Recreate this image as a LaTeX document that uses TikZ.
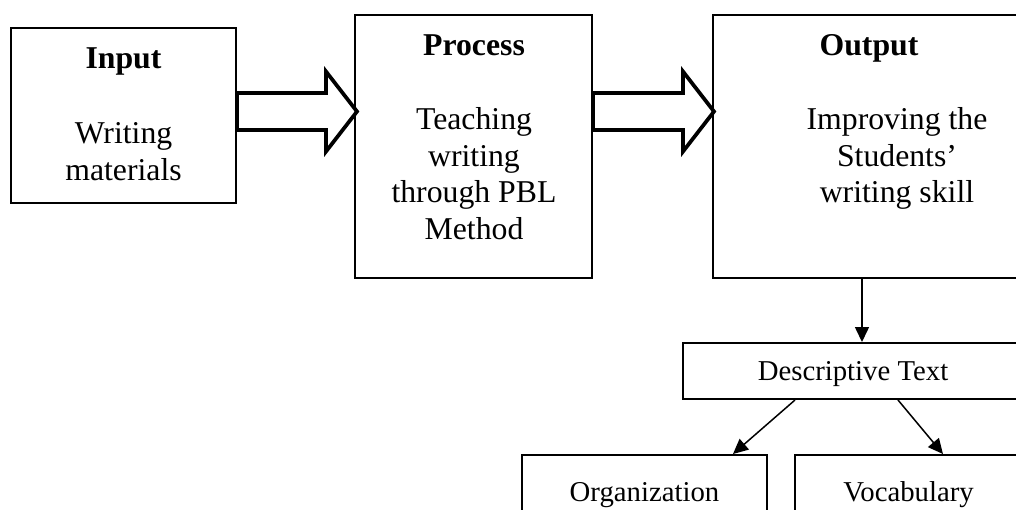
\documentclass[tikz,border=0pt]{standalone}
\usepackage{fontspec}
\setmainfont{Liberation Serif}
\usepackage{tikz}
\usetikzlibrary{arrows.meta,positioning,calc}

\begin{document}
\begin{tikzpicture}[
  x=0.4pt, y=-0.4pt,
  >={Triangle[length=6pt,width=5.6pt]},
  every node/.style={align=center, inner sep=0pt},
  bigbox/.style   = {draw, line width=0.8pt},
  smallbox/.style = {draw, line width=0.8pt, font=\fontsize{11.5}{13.8}\selectfont, text depth=0pt},
  title/.style    = {font=\fontsize{12.7}{14.6}\selectfont\bfseries, anchor=base},
  body/.style     = {font=\fontsize{12.7}{14.6}\selectfont, anchor=north},
  fatarrow/.style = {draw, line width=1.5pt, line join=miter, fill=white},
  link/.style     = {->, line width=0.6pt}
]
\useasboundingbox (0,0) rectangle (1016,509);
\clip (0,0) rectangle (1016,509);

\node[bigbox, minimum width=225*0.4pt, minimum height=175*0.4pt] (input) at (123.5,115.5) {};
\node[bigbox, minimum width=237*0.4pt, minimum height=263*0.4pt] (process) at (473.5,146.5) {};
\node[bigbox, minimum width=310*0.4pt, minimum height=263*0.4pt] (output) at (868,146.5) {};

\node[title] (inputTitle) at (123.5,68) {Input};
\node[body] (inputText) at (123.5,122) {Writing\\materials};
\node[title] (processTitle) at (474,55) {Process};
\node[body] (processText) at (474,107) {Teaching\\writing\\through PBL\\Method};
\node[title] (outputTitle) at (869,55) {Output};
\node[body] (outputText) at (897,107) {Improving the\\Students'\\writing skill};

\coordinate (arrowRow) at (0,111.5);
\draw[fatarrow] (input.east |- arrowRow) ++(0,-18.5) -- ++(89,0) -- ++(0,-21.5)
  -- ++(31,40) -- ++(-31,40) -- ++(0,-21.5) -- ++(-89,0) -- cycle;
\draw[fatarrow] (process.east |- arrowRow) ++(0,-18.5) -- ++(90,0) -- ++(0,-21.5)
  -- ++(31,40) -- ++(-31,40) -- ++(0,-21.5) -- ++(-90,0) -- cycle;

\node[smallbox, minimum width=340*0.4pt, minimum height=56*0.4pt] (desc) at (853,371) {Descriptive Text};
\node[smallbox, minimum width=245*0.4pt, minimum height=74*0.4pt] (org) at (644.5,492) {Organization};
\node[smallbox, minimum width=227*0.4pt, minimum height=74*0.4pt] (vocab) at (908.5,492) {Vocabulary};

\draw[link] ([xshift=-2.4pt]output.south) -- ([xshift=-2.4pt]output.south |- desc.north);
\draw[link] ([xshift=-23.2pt]desc.south) -- ([xshift=35.4pt]org.north);
\draw[link] ([xshift=18pt]desc.south) -- ([xshift=13.8pt]vocab.north);
\end{tikzpicture}
\end{document}
